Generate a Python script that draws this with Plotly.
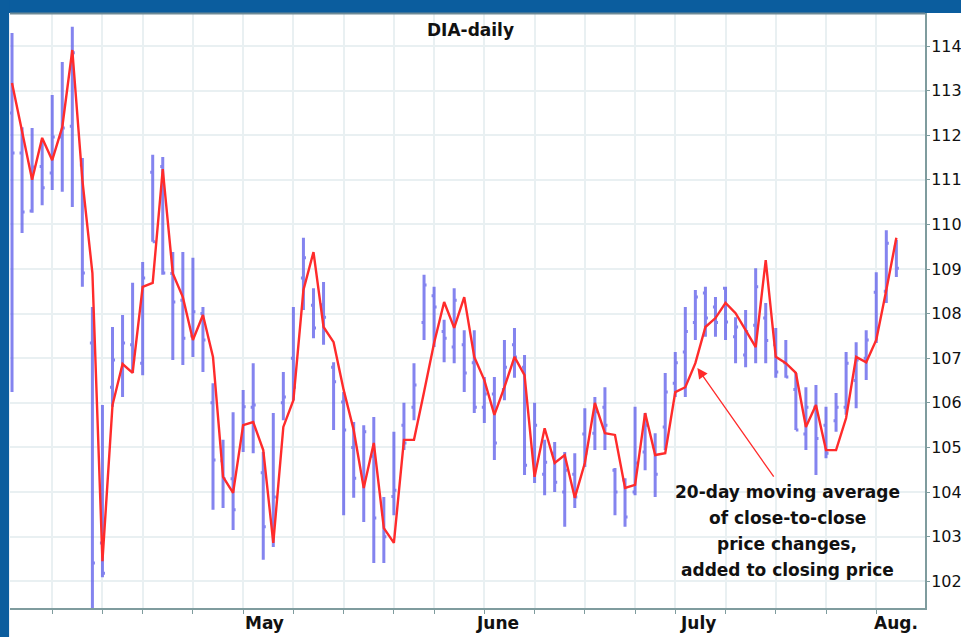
import plotly.graph_objects as go

# ---------------- data ----------------
day_index = list(range(89))

high = [114.29, 112.18, 112.16, 111.89, 112.90, 113.64, 114.43, 111.49, 108.15, 105.95,
        107.70, 107.97, 108.69, 109.16, 111.56, 111.51, 109.38, 109.38, 109.25, 108.15,
        106.44, 105.17, 105.79, 106.29, 106.89, 104.90, 105.77, 106.69, 108.15, 109.70,
        108.57, 108.71, 106.91, 106.24, 105.57, 105.50, 105.68, 103.89, 105.35, 106.00,
        106.89, 108.87, 108.60, 107.86, 108.57, 107.63, 107.63, 106.58, 106.58, 107.41,
        107.68, 107.07, 106.00, 105.17, 105.12, 104.90, 104.87, 105.88, 106.13, 106.35,
        104.54, 104.31, 105.91, 105.77, 105.32, 106.67, 107.14, 108.15, 108.53, 108.60,
        108.37, 108.60, 107.92, 108.08, 109.02, 108.24, 107.68, 107.41, 106.67, 106.35,
        106.40, 105.91, 106.22, 107.14, 107.36, 107.63, 108.93, 109.87, 109.65]

low = [106.24, 109.81, 110.26, 110.43, 110.77, 110.73, 110.39, 108.60, 101.30, 102.09,
       105.91, 106.13, 106.67, 106.62, 109.61, 108.87, 106.96, 106.85, 107.03, 106.69,
       103.60, 103.64, 103.15, 104.90, 104.87, 102.48, 102.77, 105.61, 106.06, 108.08,
       107.45, 107.30, 105.39, 103.48, 103.87, 103.33, 102.41, 102.41, 103.48, 104.94,
       105.61, 107.41, 107.25, 106.91, 106.89, 106.24, 105.77, 105.55, 104.72, 106.06,
       106.56, 104.38, 104.20, 103.93, 104.00, 103.22, 103.64, 104.56, 104.94, 104.94,
       103.48, 103.22, 103.93, 104.49, 103.89, 104.94, 106.13, 106.13, 107.41, 107.48,
       107.48, 107.41, 106.89, 106.80, 106.89, 106.89, 106.56, 106.56, 105.39, 104.94,
       104.38, 104.76, 105.35, 105.73, 105.88, 106.51, 107.34, 108.24, 108.82]

open_ = [112.50, 111.60, 110.30, 111.30, 111.15, 111.96, 112.20, 111.33, 107.34, 102.86,
         106.35, 106.73, 107.30, 106.89, 111.17, 111.30, 108.90, 108.30, 107.50, 108.00,
         106.00, 104.70, 104.30, 105.20, 105.90, 104.43, 103.30, 106.00, 107.00, 108.80,
         108.19, 108.20, 106.80, 106.02, 105.00, 104.30, 104.80, 103.50, 103.90, 105.50,
         105.90, 107.80, 108.40, 107.60, 107.25, 107.30, 106.90, 105.90, 106.20, 106.30,
         107.30, 106.80, 104.70, 104.40, 104.87, 104.00, 104.40, 105.30, 105.32, 105.90,
         104.49, 104.27, 104.00, 104.90, 105.01, 105.46, 106.44, 107.14, 107.80, 108.46,
         108.15, 108.57, 107.48, 107.07, 107.74, 107.90, 107.30, 106.90, 106.30, 105.30,
         105.90, 105.50, 105.60, 105.90, 106.50, 107.00, 108.48, 108.50, 109.50]

close = [111.60, 110.28, 111.29, 110.82, 111.96, 112.16, 113.85, 108.91, 102.41, 102.18,
         106.96, 107.34, 106.96, 108.80, 109.61, 108.91, 108.26, 107.45, 108.04, 107.41,
         104.72, 104.30, 103.60, 105.91, 105.95, 103.22, 103.89, 106.13, 106.35, 109.25,
         107.68, 107.92, 106.47, 105.39, 104.31, 105.35, 103.42, 103.00, 104.04, 105.10,
         106.40, 108.64, 108.15, 107.45, 108.30, 106.67, 105.90, 106.20, 105.10, 106.80,
         107.03, 104.60, 105.50, 104.67, 104.22, 104.49, 103.89, 104.87, 105.80, 105.50,
         104.00, 103.44, 104.65, 105.50, 104.40, 106.24, 106.90, 107.60, 108.37, 107.90,
         107.80, 107.81, 107.70, 107.60, 108.60, 107.40, 106.69, 106.58, 105.39, 105.90,
         105.20, 104.87, 105.90, 106.89, 106.96, 107.41, 107.68, 109.58, 109.02]

ma_line = [113.17, 112.12, 111.00, 111.94, 111.44, 112.18, 113.91, 111.00, 108.91, 102.45,
           105.95, 106.87, 106.67, 108.60, 108.69, 111.24, 108.90, 108.37, 107.41, 107.97,
           107.03, 104.34, 103.98, 105.50, 105.57, 104.94, 102.86, 105.46, 106.06, 108.53,
           109.38, 107.70, 107.36, 106.29, 105.39, 104.09, 105.10, 103.19, 102.86, 105.17,
           105.17, 106.24, 107.34, 108.26, 107.68, 108.37, 107.03, 106.51, 105.73, 106.35,
           107.03, 106.62, 104.34, 105.43, 104.65, 104.83, 103.87, 104.65, 106.00, 105.32,
           105.28, 104.09, 104.16, 105.77, 104.83, 104.87, 106.24, 106.35, 106.89, 107.70,
           107.90, 108.24, 108.01, 107.63, 107.25, 109.20, 107.03, 106.89, 106.67, 105.46,
           105.95, 104.94, 104.94, 105.66, 107.03, 106.91, 107.41, 108.53, 109.70]

week_ticks = [4, 9, 13, 18, 23, 28, 33, 38, 42, 47, 52, 57, 62, 66, 71, 76, 81, 86]
month_labels = ["May", "June", "July", "Aug."]
month_pos = [25.1, 48.3, 68.3, 88.0]
y_ticks = list(range(102, 115))

title_text = "DIA-daily"
note_lines = ["20-day moving average", "of close-to-close",
              "price changes,", "added to closing price"]

# ---------------- figure ----------------
FONT = "DejaVu Sans, Verdana, sans-serif"
BAR_COLOR = "rgba(98, 98, 235, 0.78)"
RED = "#ff2b2b"
FRAME = "#0b5d9e"
GRID = "#e9f0f2"
AXIS = "#7f9c9e"

fig = go.Figure()
fig.add_trace(go.Ohlc(
    x=day_index, open=open_, high=high, low=low, close=close,
    increasing=dict(line=dict(color=BAR_COLOR, width=3)),
    decreasing=dict(line=dict(color=BAR_COLOR, width=3)),
    tickwidth=0.25, showlegend=False, hoverinfo="skip"))
fig.add_trace(go.Scatter(
    x=day_index, y=ma_line, mode="lines",
    line=dict(color=RED, width=2.4), showlegend=False, hoverinfo="skip"))

L, R, T, B = 10, 36, 13, 29
PW, PH = 961 - L - R, 637 - T - B

fig.update_layout(
    width=961, height=637,
    margin=dict(l=L, r=R, t=T, b=B, pad=0, autoexpand=False),
    paper_bgcolor="white", plot_bgcolor="white",
    font=dict(family=FONT, color="#111111"),
    showlegend=False,
    xaxis=dict(range=[-0.2, 90.85], rangeslider=dict(visible=False),
               tickvals=week_ticks, ticktext=[""] * len(week_ticks),
               ticks="outside", ticklen=4, tickcolor=AXIS, tickwidth=1,
               showgrid=True, gridcolor=GRID, gridwidth=1.5,
               showline=True, linecolor=AXIS, linewidth=2,
               zeroline=False, fixedrange=True, automargin=False),
    yaxis=dict(range=[101.40, 114.74], side="right",
               tickvals=y_ticks, ticktext=[str(v) for v in y_ticks],
               ticks="outside", ticklen=3, tickcolor=AXIS,
               ticklabelstandoff=-2,
               tickfont=dict(size=16, color="#111111", family=FONT),
               showgrid=True, gridcolor=GRID, gridwidth=1.5,
               showline=True, linecolor=AXIS, linewidth=2,
               zeroline=False, fixedrange=True, automargin=False),
)

# frame (blue border at top and left)
fig.add_shape(type="rect", xref="paper", yref="paper",
              x0=-0.05, x1=1.1, y0=1.0, y1=1.05,
              fillcolor=FRAME, line=dict(width=0), layer="above")
fig.add_shape(type="rect", xref="paper", yref="paper",
              x0=-0.05, x1=-0.001, y0=-0.1, y1=1.05,
              fillcolor=FRAME, line=dict(width=0), layer="above")
fig.add_shape(type="line", xref="paper", yref="paper",
              x0=0, x1=1.0, y0=0.999, y1=0.999,
              line=dict(color="#6e8a96", width=2), layer="above")

# title
fig.add_annotation(text="<b>" + title_text + "</b>", xref="paper", yref="paper",
                   x=(470 - L) / PW, y=(637 - B - 30) / PH, showarrow=False,
                   font=dict(size=17, color="#111111", family=FONT),
                   xanchor="center", yanchor="middle")

# month labels
for lab, pos in zip(month_labels, month_pos):
    fig.add_annotation(text="<b>" + lab + "</b>", x=pos, xref="x",
                       y=(608 - 623) / PH, yref="paper", showarrow=False,
                       font=dict(size=17, color="#111111", family=FONT),
                       xanchor="center", yanchor="middle")

# explanatory note
line_px = [492, 518, 544, 570]
for txt, py in zip(note_lines, line_px):
    fig.add_annotation(text="<b>" + txt + "</b>", xref="paper", yref="paper",
                       x=(787 - L) / PW, y=(608 - py) / PH, showarrow=False,
                       font=dict(size=17, color="#111111", family=FONT),
                       xanchor="center", yanchor="middle")

# arrow from the note to the red line
fig.add_annotation(text="", x=68.2, y=106.78, xref="x", yref="y",
                   ax=75.9, ay=104.31, axref="x", ayref="y",
                   showarrow=True, arrowhead=2, arrowsize=1.6,
                   arrowwidth=1.3, arrowcolor=RED)

fig.write_html(
    "out.html",
    config={"displayModeBar": False},
    post_script="document.body.style.margin='0';document.body.style.padding='0';"
                "document.body.style.overflow='hidden';",
)
